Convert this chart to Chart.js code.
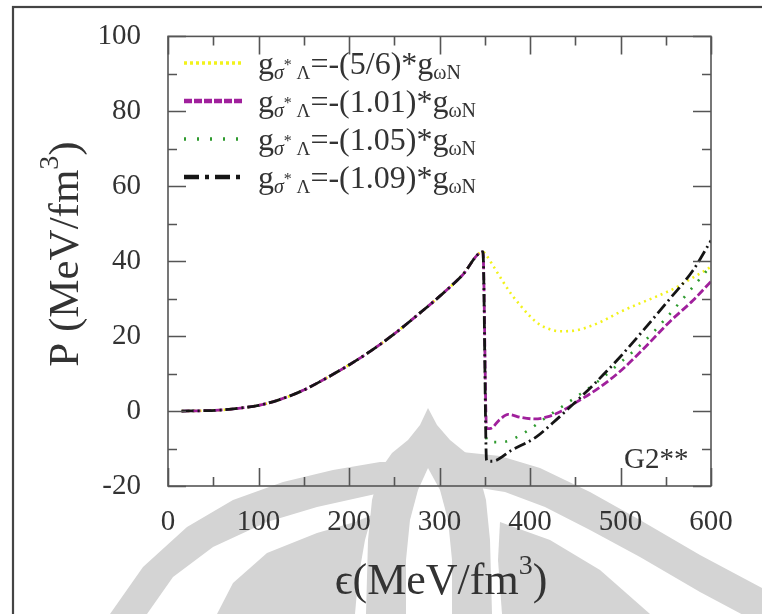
<!DOCTYPE html>
<html><head><meta charset="utf-8">
<script src="https://cdn.jsdelivr.net/npm/chart.js@4.4.1/dist/chart.umd.min.js"></script>
<style>html,body{margin:0;padding:0;background:#fff;}#wrap{width:762px;height:614px;position:relative}</style>
</head><body><div id="wrap"><canvas id="c" width="762" height="614"></canvas></div>
<script>
// ---- data ----
const xTickStep = 100;
const yTickStep = 20;
const commonEps = [15, 40, 60, 80, 100, 125, 150, 175, 200, 225, 250, 275, 300, 325, 348];
const commonP   = [0, 0.1, 0.3, 0.8, 1.5, 3.2, 5.6, 8.8, 12.3, 16.2, 20.6, 25.5, 30.6, 36.2, 42.5];

const yellowEps = [352, 360, 370, 380, 390, 400, 410, 420, 433, 450, 466, 480, 500, 520, 540, 560, 577, 590, 600];
const yellowP   = [41.5, 38.5, 34.6, 31, 28, 25.3, 23.2, 22, 21.3, 21.5, 22.6, 24, 26.5, 28.6, 30.6, 32.8, 35.2, 37, 38.5];

const purpleEps = [352, 357, 366, 376, 390, 405, 420, 435, 450, 475, 500, 525, 555, 580, 600];
const purpleP   = [-4.7, -4.6, -2.4, -0.9, -1.7, -2.1, -1.5, 0, 2.2, 6, 10.7, 16.5, 24, 29.5, 34.6];

const greenEps = [352, 360, 372, 385, 400, 415, 430, 450, 475, 500, 525, 550, 575, 600];
const greenP   = [-7.8, -8.3, -8.2, -7, -4.8, -2.2, 0.3, 3.6, 7.9, 13, 18.3, 24.7, 31.7, 38.8];

const blackEps = [352, 358, 380, 407, 425, 444, 470, 499, 525, 555, 580, 600];
const blackP   = [-13.2, -13.4, -10.4, -6.9, -3.2, 1, 7, 14.3, 21.5, 30.1, 37.5, 45.5];

const couplings = ['(5/6)', '(1.01)', '(1.05)', '(1.09)'];
const modelLabel = 'G2**';

// ---- build datasets ----
function pts(ex, py) {
  const a = commonEps.map((e, i) => ({x: e, y: commonP[i]}));
  return a.concat(ex.map((e, i) => ({x: e, y: py[i]})));
}
const styles = [
  {color: '#f2f21a', dash: [2, 4],  width: 2.6, ldash: [3, 3], lwidth: 3.5},
  {color: '#a0209c', dash: [8, 3],  width: 2.8, ldash: [8, 2], lwidth: 4.5},
  {color: '#2e9a2e', dash: [2, 9],  width: 2.6, ldash: [2, 11], lwidth: 3.5},
  {color: '#151515', dash: [12, 4, 2, 4], width: 2.8, ldash: [15, 6, 4, 6], lwidth: 4.5}
];
const seriesData = [pts(yellowEps, yellowP), pts(purpleEps, purpleP), pts(greenEps, greenP), pts(blackEps, blackP)];
const orders = [4, 2, 3, 1];
const datasets = seriesData.map((d, i) => ({
  label: 'g=-' + couplings[i] + '*g',
  data: d,
  borderColor: styles[i].color,
  borderWidth: styles[i].width,
  borderDash: styles[i].dash,
  pointRadius: 0,
  fill: false,
  cubicInterpolationMode: 'monotone',
  order: orders[i]
}));

const SERIF = '"Liberation Serif", "DejaVu Serif", serif';
const TXT = '#333';

function drawRich(ctx, x, y, parts) {
  for (const p of parts) {
    ctx.font = (p.it ? 'italic ' : '') + p.f + 'px ' + SERIF;
    ctx.fillText(p.t, x, y + (p.dy || 0));
    x += ctx.measureText(p.t).width;
  }
  return x;
}
function richWidth(ctx, parts) {
  let w = 0;
  for (const p of parts) { ctx.font = (p.it ? 'italic ' : '') + p.f + 'px ' + SERIF; w += ctx.measureText(p.t).width; }
  return w;
}

// background watermark (decorative, approximate)
const WM = '#d4d4d4';
const wmShapes = [
  {c: WM, p: [[110,614],[143,567],[187,527],[233,500],[283,482],[333,470],[380,462],[405,462],[380,493],[317,507],[267,522],[213,547],[173,577],[147,614]]},
  {c: WM, p: [[217,614],[233,583],[267,553],[317,533],[355,522],[372,515],[365,540],[358,580],[355,614]]},
  {c: WM, p: [[428,408],[420,425],[408,440],[392,453],[380,470],[372,500],[368,540],[366,614],[492,614],[490,540],[486,500],[478,470],[466,453],[450,440],[437,425]]},
  {c: '#ffffff', p: [[428,468],[418,490],[410,520],[406,560],[406,614],[452,614],[452,560],[448,520],[440,490]]},
  {c: WM, p: [[462,452],[500,456],[540,468],[590,492],[640,520],[700,555],[762,588],[762,625],[700,592],[640,557],[590,530],[545,507],[505,492],[480,488]]},
  {c: WM, p: [[500,522],[550,540],[600,570],[650,614],[502,614],[498,560]]}
];

const decor = {
  id: 'decor',
  beforeDraw(chart) {
    const ctx = chart.ctx;
    ctx.save(); ctx.fillStyle = '#fff'; ctx.fillRect(0, 0, chart.width, chart.height);
    for (const s of wmShapes) {
      ctx.fillStyle = s.c; ctx.beginPath();
      s.p.forEach((q, i) => i ? ctx.lineTo(q[0], q[1]) : ctx.moveTo(q[0], q[1]));
      ctx.closePath(); ctx.fill();
    }
    ctx.restore();
  },
  afterDraw(chart) {
    const ctx = chart.ctx, a = chart.chartArea, xs = chart.scales.x, ys = chart.scales.y;
    ctx.save();
    ctx.strokeStyle = '#555'; ctx.lineWidth = 1.6; ctx.setLineDash([]);
    ctx.strokeRect(a.left, a.top, a.right - a.left, a.bottom - a.top);
    ctx.beginPath();
    for (let v = xs.min; v <= xs.max + 1e-6; v += xTickStep / 2) {
      const px = Math.round(xs.getPixelForValue(v)) + 0.5;
      const L = (Math.abs(v % xTickStep) < 1e-6) ? 18 : 9;
      ctx.moveTo(px, a.bottom); ctx.lineTo(px, a.bottom - L);
      ctx.moveTo(px, a.top); ctx.lineTo(px, a.top + L);
    }
    for (let v = ys.min; v <= ys.max + 1e-6; v += yTickStep / 2) {
      const py = Math.round(ys.getPixelForValue(v)) + 0.5;
      const L = (Math.abs(v % yTickStep) < 1e-6) ? 18 : 9;
      ctx.moveTo(a.left, py); ctx.lineTo(a.left + L, py);
      ctx.moveTo(a.right, py); ctx.lineTo(a.right - L, py);
    }
    ctx.stroke();

    ctx.fillStyle = TXT; ctx.textBaseline = 'alphabetic'; ctx.textAlign = 'left';
    for (let i = 0; i < couplings.length; i++) {
      const ry = 63 + i * 38;
      ctx.strokeStyle = styles[i].color; ctx.lineWidth = styles[i].lwidth; ctx.setLineDash(styles[i].ldash);
      ctx.beginPath(); ctx.moveTo(184, ry); ctx.lineTo(243, ry); ctx.stroke();
      ctx.setLineDash([]);
      drawRich(ctx, 258, ry + 11, [
        {t: 'g', f: 32}, {t: 'σ', f: 20, dy: 5, it: true}, {t: '*', f: 16, dy: -4}, {t: ' Λ', f: 19, dy: 5},
        {t: '=-' + couplings[i] + '*g', f: 32}, {t: 'ωN', f: 20, dy: 5}
      ]);
    }

    ctx.font = '29px ' + SERIF; ctx.fillStyle = TXT;
    ctx.fillText(modelLabel, 624, 468);

    const ytParts = [{t: 'P (MeV/fm', f: 43}, {t: '3', f: 28, dy: -20}, {t: ')', f: 43}];
    const yw = richWidth(ctx, ytParts);
    ctx.save(); ctx.translate(78, 254); ctx.rotate(-Math.PI / 2);
    drawRich(ctx, -yw / 2, 0, ytParts); ctx.restore();
    const xtParts = [{t: 'ϵ(MeV/fm', f: 44}, {t: '3', f: 28, dy: -20}, {t: ')', f: 44}];
    const xw = richWidth(ctx, xtParts);
    drawRich(ctx, 441 - xw / 2, 594, xtParts);

    ctx.strokeStyle = '#444'; ctx.lineWidth = 2.2;
    ctx.strokeRect(13, 7, 800, 700);
    ctx.restore();
  }
};

new Chart(document.getElementById('c'), {
  type: 'line',
  data: {datasets},
  options: {
    responsive: false, animation: false, devicePixelRatio: 1,
    layout: {padding: {left: 0, top: 33, right: 51, bottom: 0}},
    plugins: {legend: {display: false}, tooltip: {enabled: false}},
    scales: {
      x: {
        type: 'linear', min: 0, max: 600,
        grid: {display: false}, border: {display: false},
        ticks: {stepSize: xTickStep, font: {family: SERIF, size: 29}, color: TXT, padding: 11, maxRotation: 0},
        afterFit(s) { s.height = 128; }
      },
      y: {
        type: 'linear', min: -20, max: 100,
        grid: {display: false}, border: {display: false},
        ticks: {stepSize: yTickStep, font: {family: SERIF, size: 29}, color: TXT, padding: 19},
        afterFit(s) { s.width = 168; }
      }
    }
  },
  plugins: [decor]
});
</script></body></html>
